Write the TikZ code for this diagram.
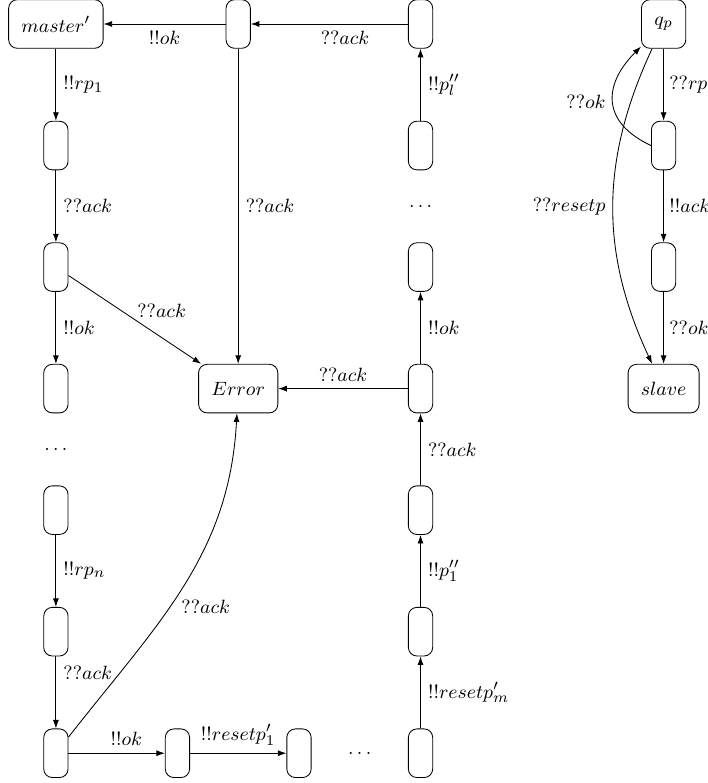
\documentclass[tikz,border=0pt]{standalone}
\usetikzlibrary{arrows.meta}
\begin{document}
\begin{tikzpicture}[
    font=\fontsize{9.3pt}{11pt}\selectfont,
    lokasi/.style={draw, rounded corners, minimum height=0.8cm, inner xsep=6pt},
    kosong/.style={lokasi, inner xsep=0pt, minimum width=0.4cm},
    panah/.style={-{Latex[length=4pt, width=2.8pt]}}
  ]
    \useasboundingbox (-0.92,0.395) rectangle (10.72,-12.49);
    % kolom kiri
    \node[lokasi] (master) at (0,0) {$master'$};
    \node[kosong] (a1) at (0,-2) {};
    \node[kosong] (a2) at (0,-4) {};
    \node[kosong] (a3) at (0,-6) {};
    \node (titikA) at (0,-7) {$\ldots$};
    \node[kosong] (a4) at (0,-8) {};
    \node[kosong] (a5) at (0,-10) {};
    \node[kosong] (a6) at (0,-12) {};
    % baris bawah
    \node[kosong] (b1) at (2,-12) {};
    \node[kosong] (b2) at (4,-12) {};
    \node (titikB) at (5,-12) {$\ldots$};
    % tengah
    \node[kosong] (m1) at (3,0) {};
    \node[lokasi] (err) at (3,-6) {$Error$};
    % kolom kanan
    \node[kosong] (r1) at (6,0) {};
    \node[kosong] (r2) at (6,-2) {};
    \node (titikC) at (6,-3) {$\ldots$};
    \node[kosong] (r4) at (6,-4) {};
    \node[kosong] (r6) at (6,-6) {};
    \node[kosong] (r8) at (6,-8) {};
    \node[kosong] (r10) at (6,-10) {};
    \node[kosong] (r12) at (6,-12) {};
    % slave
    \node[lokasi] (qp) at (10,0) {$q_p$};
    \node[kosong] (s1) at (10,-2) {};
    \node[kosong] (s2) at (10,-4) {};
    \node[lokasi] (slave) at (10,-6) {$slave$};

    \draw[panah] (m1) -- node[below] {$!!ok$} (master);
    \draw[panah] (r1) -- node[below, pos=0.4] {$??ack$} (m1);
    \draw[panah] (master) -- node[right] {$!!rp_1$} (a1);
    \draw[panah] (a1) -- node[right] {$??ack$} (a2);
    \draw[panah] (a2) -- node[right] {$!!ok$} (a3);
    \draw[panah] (a2) -- node[above right, inner sep=1pt] {$??ack$} (err);
    \draw[panah] (m1) -- node[right] {$??ack$} (err);
    \draw[panah] (r6) -- node[above] {$??ack$} (err);
    \draw[panah] (a4) -- node[right] {$!!rp_n$} (a5);
    \draw[panah] (a5) -- node[right, pos=0.23] {$??ack$} (a6);
    \draw[panah] (a6) to[out=52, in=-93] node[right, pos=0.43, xshift=2pt] {$??ack$} (err);
    \draw[panah] (a6) -- node[above, pos=0.6] {$!!ok$} (b1);
    \draw[panah] (b1) -- node[above] {$!!resetp'_1$} (b2);
    \draw[panah] (r12) -- node[right] {$!!resetp'_m$} (r10);
    \draw[panah] (r10) -- node[right] {$!!p''_1$} (r8);
    \draw[panah] (r8) -- node[right] {$??ack$} (r6);
    \draw[panah] (r6) -- node[right] {$!!ok$} (r4);
    \draw[panah] (r2) -- node[right] {$!!p''_l$} (r1);

    \draw[panah] (qp) -- node[right, inner sep=2.5pt] {$??rp$} (s1);
    \draw[panah] (s1.west) to[out=155, in=-135, looseness=1.4] node[left, pos=0.5] {$??ok$} (qp);
    \draw[panah] (s1) -- node[right, inner sep=2.5pt] {$!!ack$} (s2);
    \draw[panah] (s2) -- node[right, inner sep=2.5pt] {$??ok$} (slave);
    \draw[panah] (qp) to[bend right=25] node[left] {$??resetp$} (slave);
  \end{tikzpicture}
\end{document}
